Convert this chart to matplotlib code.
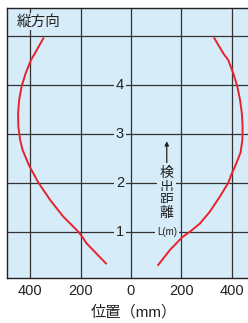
import matplotlib
matplotlib.use("Agg")
import matplotlib.pyplot as plt

plt.rcParams['font.family'] = ['Liberation Sans', 'Noto Sans CJK JP', 'DejaVu Sans']

# Data (position in mm, distance L in m)
left_x = [-348, -381, -397, -418, -434, -444, -448, -447, -440, -430, -404, -368, -321, -269, -209, -190, -176, -99]
left_y = [4.955, 4.65, 4.51, 4.24, 3.97, 3.69, 3.42, 3.15, 2.88, 2.67, 2.35, 2.01, 1.65, 1.31, 1.0, 0.87, 0.76, 0.35]
right_x = [331, 366, 386, 406, 422, 433, 440, 443, 442, 435, 415, 400, 386, 353, 313, 274, 234, 204, 155, 108]
right_y = [4.955, 4.65, 4.51, 4.24, 3.97, 3.69, 3.42, 3.15, 2.88, 2.62, 2.36, 2.19, 2.0, 1.72, 1.41, 1.17, 1.0, 0.89, 0.63, 0.32]

x_ticks = [-400, -200, 0, 200, 400]
x_tick_labels = ["400", "200", "0", "200", "400"]
y_ticks = [1, 2, 3, 4, 5]
y_inner_labels = ["1", "2", "3", "4"]
title_text = "縦方向"
xlabel_text = "位置（mm）"
vert_chars = ["検", "出", "距", "離"]
unit_text = "L(m)"

BG = "#d6ecf8"
RED = "#e8232b"
GRID = "#333333"

fig = plt.figure(figsize=(2.48, 3.23), dpi=100)
fig.patch.set_facecolor("white")
ax = fig.add_axes([0.0282, 0.1393, 0.9877, 0.8359])
ax.set_facecolor(BG)
ax.set_xlim(-492, 480)
ax.set_ylim(0.053, 5.575)

ax.set_xticks(x_ticks)
ax.set_xticklabels(x_tick_labels)
ax.set_yticks(y_ticks)
ax.set_yticklabels([])
ax.tick_params(axis='both', length=0)
ax.tick_params(axis='x', pad=4.5, labelsize=10.5, colors="#222222")
ax.grid(True, color=GRID, linewidth=0.9)
ax.set_axisbelow(True)
for s in ax.spines.values():
    s.set_color("#222222")
    s.set_linewidth(1.0)
ax.spines['right'].set_visible(False)

ax.plot(left_x, left_y, color=RED, linewidth=1.4, zorder=3, solid_joinstyle='round')
ax.plot(right_x, right_y, color=RED, linewidth=1.4, zorder=3, solid_joinstyle='round')

bbox = dict(facecolor=BG, edgecolor='none', pad=1.5)
for lab in y_inner_labels:
    ax.text(-44, float(lab), lab, ha='center', va='center', fontsize=10.5,
            color="#222222", bbox=bbox, zorder=4)

ax.text(-367, 5.29, title_text, ha='center', va='center', fontsize=10.5,
        color="#222222", bbox=dict(facecolor=BG, edgecolor='none', pad=1), zorder=4)

# vertical axis caption
ax.annotate("", xy=(142, 2.85), xytext=(142, 2.36),
            arrowprops=dict(arrowstyle='-|>', color="#222222", lw=0.9,
                            mutation_scale=6, shrinkA=0, shrinkB=0), zorder=4)
char_y = [2.20, 1.90, 1.64, 1.38]
for ch, yy in zip(vert_chars, char_y):
    ax.text(142, yy, ch, ha='center', va='center', fontsize=10, color="#222222",
            bbox=dict(facecolor=BG, edgecolor='none', pad=2.0), zorder=4)
ax.text(142, 1.0, unit_text, ha='center', va='center', fontsize=7, color="#222222",
        bbox=dict(facecolor=BG, edgecolor='none', pad=1.5), zorder=4)

ax.set_xlabel(xlabel_text, fontsize=11, color="#222222")
ax.xaxis.set_label_coords((134 - 7) / 245.0, -0.10)

fig.savefig("out.png", dpi=100)
